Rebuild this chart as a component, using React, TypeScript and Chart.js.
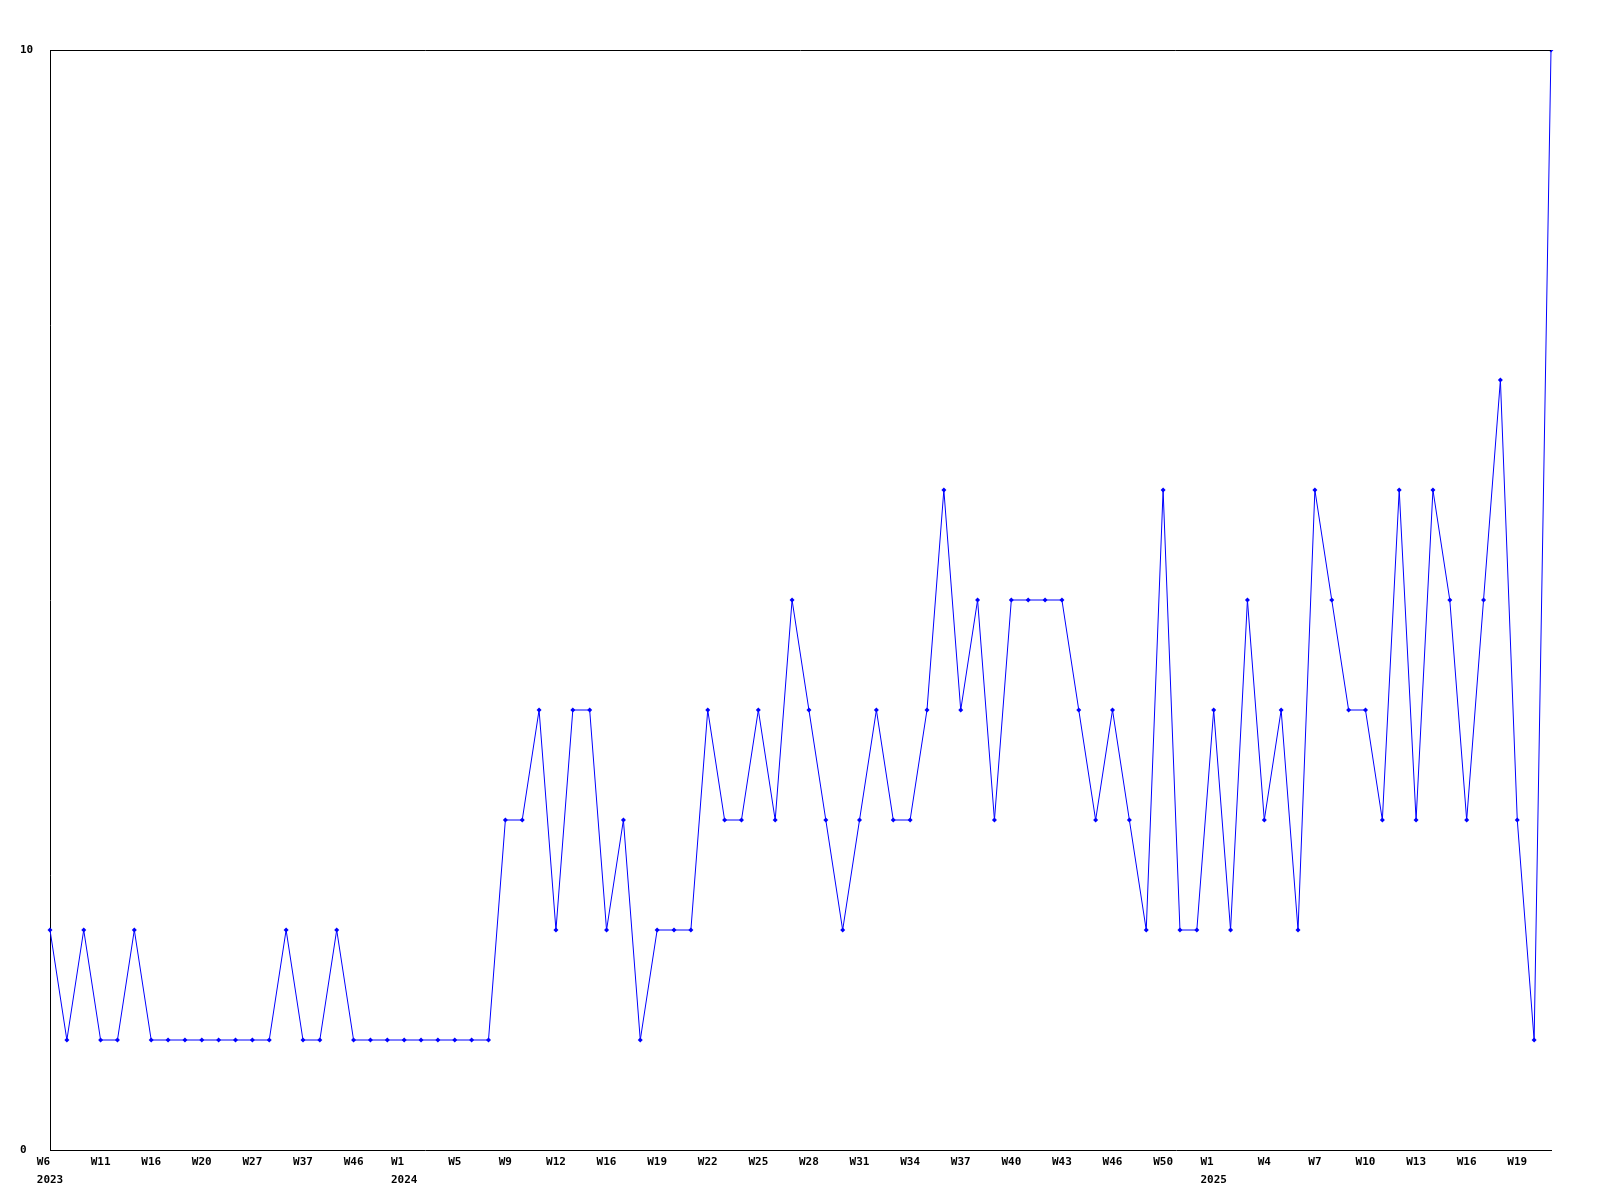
import React, { useEffect, useRef } from "react";
import { Chart, registerables } from "chart.js";

Chart.register(...registerables);

const weeks2023 = [6, 8, 9, 11, 13, 14, 16, 18, 19, 20, 23, 25, 27, 30, 33, 37, 40, 43, 46, 49, 51];
const weeks2024 = [1, 2, 4, 5, 6, 8, 9, 10, 11, 12, 14, 15, 16, 17, 18, 19, 20, 21, 22, 23, 24, 25, 26, 27, 28, 29, 30, 31, 32, 33, 34, 35, 36, 37, 38, 39, 40, 41, 42, 43, 44, 45, 46, 47, 48, 50, 51, 52];
const weeks2025 = [1, 2, 3, 4, 5, 6, 7, 8, 9, 10, 11, 12, 13, 14, 15, 16, 17, 18, 19, 20, 21];

const values2023 = [2, 1, 2, 1, 1, 2, 1, 1, 1, 1, 1, 1, 1, 1, 2, 1, 1, 2, 1, 1, 1];
const values2024 = [1, 1, 1, 1, 1, 1, 3, 3, 4, 2, 4, 4, 2, 3, 1, 2, 2, 2, 4, 3, 3, 4, 3, 5, 4, 3, 2, 3, 4, 3, 3, 4, 6, 4, 5, 3, 5, 5, 5, 5, 4, 3, 4, 3, 2, 6, 2, 2];
const values2025 = [4, 2, 5, 3, 4, 2, 6, 5, 4, 4, 3, 6, 3, 6, 5, 3, 5, 7, 3, 1, 10];

const yTickValues = [0, 10];

type Lbl = { week: string; year: string | null };

const labels: Lbl[] = [
  ...weeks2023.map((w, i) => ({ week: "W" + w, year: i === 0 ? "2023" : null })),
  ...weeks2024.map((w, i) => ({ week: "W" + w, year: i === 0 ? "2024" : null })),
  ...weeks2025.map((w, i) => ({ week: "W" + w, year: i === 0 ? "2025" : null })),
];
const values = [...values2023, ...values2024, ...values2025];

export default function App() {
  const ref = useRef<HTMLCanvasElement | null>(null);
  useEffect(() => {
    if (!ref.current) return;
    const font = { family: "'DejaVu Sans Mono', monospace", size: 11, weight: "bold" as const, lineHeight: 1.65 };
    const topBorder = {
      id: "topBorder",
      afterDraw(chart: any) {
        const { ctx, chartArea } = chart;
        ctx.save();
        ctx.strokeStyle = "#000";
        ctx.lineWidth = 1;
        ctx.beginPath();
        ctx.moveTo(chartArea.left, Math.round(chartArea.top) + 0.5);
        ctx.lineTo(chartArea.right, Math.round(chartArea.top) + 0.5);
        ctx.stroke();
        ctx.restore();
      },
    };
    const chart = new Chart(ref.current, {
      type: "line",
      data: {
        labels: labels.map((l) => l.week),
        datasets: [
          {
            data: values,
            borderColor: "#0000ff",
            backgroundColor: "#0000ff",
            borderWidth: 1,
            pointStyle: "rectRot",
            pointRadius: 2.5,
            pointBorderWidth: 0,
            tension: 0,
            fill: false,
          },
        ],
      },
      options: {
        responsive: false,
        animation: false,
        layout: { padding: { left: 20, top: 50, right: 49, bottom: 0 } },
        plugins: { legend: { display: false }, tooltip: { enabled: false } },
        scales: {
          x: {
            type: "category",
            offset: false,
            grid: { display: false, drawTicks: false },
            border: { display: true, color: "#000", width: 1 },
            afterFit: (s: any) => {
              s.height = 50;
            },
            ticks: {
              autoSkip: false,
              maxRotation: 0,
              minRotation: 0,
              padding: 3,
              color: "#000",
              font,
              callback: (_v: any, i: number) => {
                if (i % 3 !== 0) return "";
                const l = labels[i];
                if (l.year) {
                  const w = l.week.padEnd(l.year.length, " ");
                  return [w, l.year];
                }
                return l.week;
              },
            },
          },
          y: {
            min: 0,
            max: 10,
            grid: { display: false, drawTicks: false },
            border: { display: true, color: "#000", width: 1 },
            afterFit: (s: any) => {
              s.width = 30;
            },
            afterBuildTicks: (s: any) => {
              s.ticks = yTickValues.map((v) => ({ value: v }));
            },
            ticks: {
              crossAlign: "far",
              padding: 0,
              color: "#000",
              font: { ...font, lineHeight: 1.2 },
            },
          },
        },
      },
      plugins: [topBorder],
    });
    return () => chart.destroy();
  }, []);
  return (
    <div style={{ position: "absolute", left: 0, top: 0, width: 1600, height: 1200, background: "#fff" }}>
      <canvas ref={ref} width={1600} height={1200} />
    </div>
  );
}
